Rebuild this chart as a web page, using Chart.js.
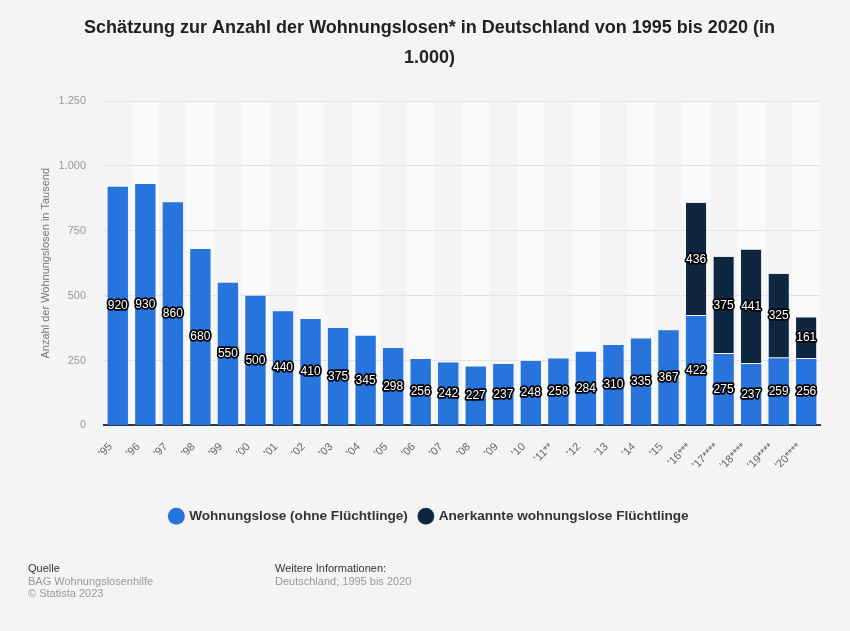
<!DOCTYPE html>
<html>
<head>
<meta charset="utf-8">
<script src="https://cdn.jsdelivr.net/npm/chart.js@4.4.0/dist/chart.umd.min.js"></script>
<style>
  html, body { margin: 0; padding: 0; background: #f4f4f4; }
  #wrap { position: relative; width: 850px; height: 631px; }
  canvas { position: absolute; left: 0; top: 0; }
  .foot { position: absolute; font-family: "Liberation Sans", Arial, sans-serif; font-size: 11px; line-height: 12.5px; color: #999; }
  .foot b { font-weight: normal; color: #333; }
</style>
</head>
<body>
<div id="wrap">
  <canvas id="c" width="850" height="631"></canvas>
  <div class="foot" style="left:28px; top:562px;"><b>Quelle</b><br>BAG Wohnungslosenhilfe<br>© Statista 2023</div>
  <div class="foot" style="left:275px; top:562px;"><b>Weitere Informationen:</b><br>Deutschland; 1995 bis 2020</div>
</div>
<script>
const categories = ["'95","'96","'97","'98","'99","'00","'01","'02","'03","'04","'05","'06","'07","'08","'09","'10","'11**","'12","'13","'14","'15","'16***","'17****","'18****","'19****","'20****"];
const wohnungslose = [920,930,860,680,550,500,440,410,375,345,298,256,242,227,237,248,258,284,310,335,367,422,275,237,259,256];
const fluechtlinge = [null,null,null,null,null,null,null,null,null,null,null,null,null,null,null,null,null,null,null,null,null,436,375,441,325,161];
const yTicks = [0,250,500,750,1000,1250];
const seriesNames = ["Wohnungslose (ohne Flüchtlinge)", "Anerkannte wohnungslose Flüchtlinge"];
const titleLines = ["Schätzung zur Anzahl der Wohnungslosen* in Deutschland von 1995 bis 2020 (in", "1.000)"];
const yTitle = "Anzahl der Wohnungslosen in Tausend";

const fmt = v => String(v).replace(/\B(?=(\d{3})+(?!\d))/g, '.');

const bandPlugin = {
  id: 'bands',
  beforeDraw(chart) {
    const {ctx, chartArea, scales: {x}} = chart;
    const w = (x.getPixelForValue(1) - x.getPixelForValue(0));
    ctx.save();
    ctx.fillStyle = '#fafafa';
    for (let i = 1; i < categories.length; i += 2) {
      const cx = x.getPixelForValue(i);
      ctx.fillRect(cx - w / 2, chartArea.top, w, chartArea.bottom - chartArea.top);
    }
    ctx.restore();
  }
};

const labelPlugin = {
  id: 'vlabels',
  afterDatasetsDraw(chart) {
    const ctx = chart.ctx;
    ctx.save();
    ctx.font = '12px "Liberation Sans", Arial, sans-serif';
    ctx.textAlign = 'center';
    ctx.textBaseline = 'middle';
    ctx.lineJoin = 'round';
    ctx.lineWidth = 3.5;
    ctx.strokeStyle = '#000';
    ctx.fillStyle = '#fff';
    chart.data.datasets.forEach((ds, di) => {
      const meta = chart.getDatasetMeta(di);
      meta.data.forEach((el, i) => {
        const v = ds.data[i];
        if (v == null) return;
        const p = el.getCenterPoint();
        const t = String(v);
        ctx.strokeText(t, p.x, p.y);
        ctx.fillText(t, p.x, p.y);
      });
    });
    ctx.restore();
  }
};

new Chart(document.getElementById('c'), {
  type: 'bar',
  data: {
    labels: categories,
    datasets: [
      { label: seriesNames[0], data: wohnungslose, backgroundColor: '#2774dc', borderWidth: 0, barPercentage: 0.74, categoryPercentage: 1 },
      { label: seriesNames[1], data: fluechtlinge, backgroundColor: '#0f2641', borderColor: '#f4f4f4', borderWidth: {top:0,left:0,right:0,bottom:1}, borderSkipped: false, barPercentage: 0.74, categoryPercentage: 1 }
    ]
  },
  options: {
    responsive: false,
    animation: false,
    devicePixelRatio: 1,
    layout: { padding: { left: 39, right: 30, top: 0, bottom: 98 } },
    plugins: {
      title: {
        display: true,
        text: titleLines,
        color: '#222',
        font: { family: '"Liberation Sans", Arial, sans-serif', size: 18, weight: 'bold', lineHeight: 1.667 },
        padding: { top: 13, bottom: 28 }
      },
      legend: {
        position: 'bottom',
        labels: {
          usePointStyle: true,
          pointStyle: 'circle',
          boxWidth: 12,
          boxHeight: 12,
          padding: 12,
          color: '#333',
          font: { family: '"Liberation Sans", Arial, sans-serif', size: 13.6, weight: 'bold' }
        }
      },
      tooltip: { enabled: false }
    },
    scales: {
      x: {
        stacked: true,
        grid: { display: false, drawTicks: false },
        border: { display: true, color: '#2b3a4a', width: 2 },
        ticks: { color: '#666', font: { family: '"Liberation Sans", Arial, sans-serif', size: 11 }, minRotation: 45, maxRotation: 45, padding: 15, labelOffset: -7, autoSkip: false },
        afterFit(s) { s.height = 72; }
      },
      y: {
        stacked: true,
        min: 0, max: 1250,
        afterBuildTicks(s) { s.ticks = yTicks.map(v => ({ value: v })); },
        grid: { color: '#e3e3e3', lineWidth: 1, drawTicks: false },
        border: { display: false },
        ticks: { color: '#999', font: { family: '"Liberation Sans", Arial, sans-serif', size: 11 }, padding: 18, callback: v => fmt(v) },
        title: { display: true, text: yTitle, color: '#777', font: { family: '"Liberation Sans", Arial, sans-serif', size: 11 }, padding: { top: 0, bottom: 10 } },
        afterFit(s) { s.width = 65; }
      }
    }
  },
  plugins: [bandPlugin, labelPlugin]
});
</script>
</body>
</html>
